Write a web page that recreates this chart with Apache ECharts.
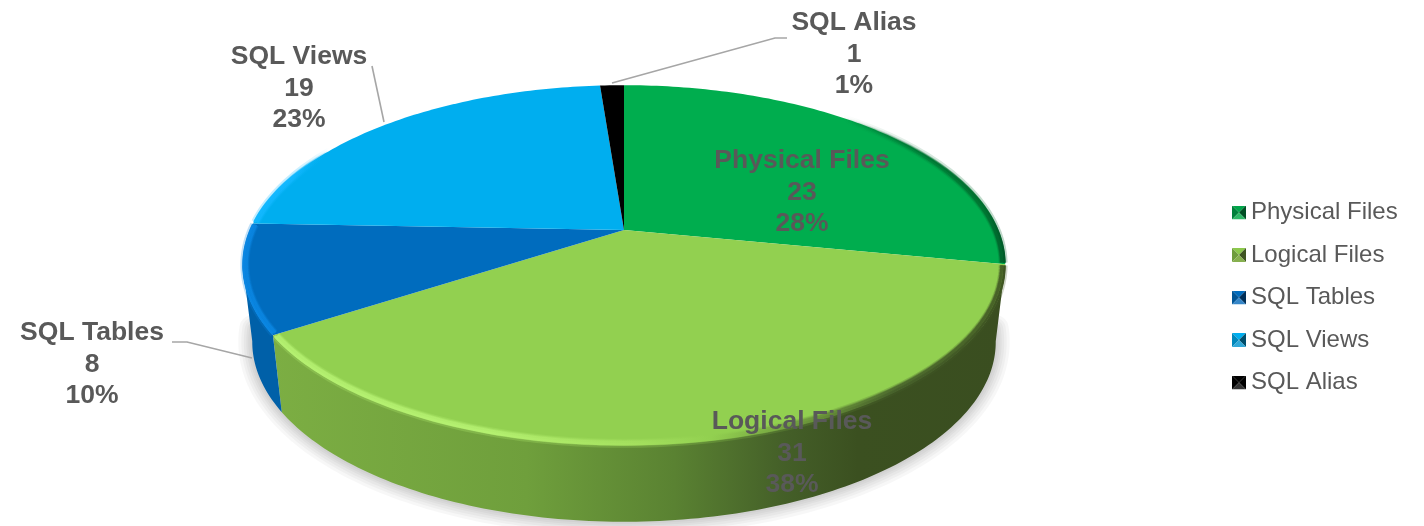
<!DOCTYPE html>
<html lang="en">
<head>
    <meta charset="UTF-8">
    <title>Object types</title>
    <script src="https://cdn.jsdelivr.net/npm/echarts@6/dist/echarts.min.js"></script>
    <style>html,body{margin:0;padding:0;background:#fff}</style>
</head>
<body>
<div id="main" style="width:1424px;height:526px;"></div>
<script type="text/javascript">
    // data
    const categories = ['Physical Files', 'Logical Files', 'SQL Tables', 'SQL Views', 'SQL Alias'];
    const values = [23, 31, 8, 19, 1];

    // colours: top face, wall, rim highlight
    const topColors = ['#00AD4E', '#92D050', '#006CBE', '#00AEEF', '#000000'];
    const wallStops = [
        [[0, '#007A37'], [1, '#007A37']],
        [[0, '#7CAE43'], [0.35, '#6F9F3C'], [0.55, '#5A8232'], [0.7, '#445F28'], [0.8, '#3B5020'], [1, '#3A4E20']],
        [[0, '#0060A8'], [1, '#005F9F']],
        [[0, '#0090C8'], [1, '#0090C8']],
        [[0, '#000000'], [1, '#000000']]
    ];
    const rimStops = [
        [[0, 'rgba(0,107,48,0)'], [0.78, 'rgba(0,107,48,0)'], [0.97, '#00702F'], [1, '#005A28']],
        [[0, '#B4F070'], [0.3, '#B4F070'], [0.5, '#A4E05E'], [0.6, '#92D050'], [0.72, '#6E9A3C'], [0.85, '#46602A'], [1, '#3F5522']],
        [[0, '#0A86E2'], [1, '#0A86E2']],
        [[0, '#12B8FF'], [0.03, '#12B8FF'], [0.08, 'rgba(0,174,239,0)'], [1, 'rgba(0,174,239,0)']],
        null
    ];
    // legend icon facets: top, left, right, bottom
    const iconFacets = [
        ['#00A54A', '#00803A', '#004F24', '#2DB866'],
        ['#8CC84C', '#6E9C3C', '#3F5522', '#86B04E'],
        ['#006CBE', '#005596', '#002F58', '#3586C8'],
        ['#00AEEF', '#0088BC', '#004E6C', '#30A8D8'],
        ['#000000', '#000000', '#000000', '#333333']
    ];

    // perspective of the disc, fitted to the picture
    const apexX = 624, apexY = 230, scaleX = 374, scaleY = 173, persp = 0.1945;
    const wallDrop = 77, wallShrink = 0.975;
    const wallFrom = 101, wallTo = 259;

    const total = values.reduce((a, b) => a + b, 0);
    const starts = values.map((v, i) => values.slice(0, i).reduce((a, b) => a + b, 0));

    function topPoint(deg, r) {
        const a = deg * Math.PI / 180;
        const X = r * Math.sin(a), Y = r * Math.cos(a), w = 1 + persp * Y;
        return [apexX + scaleX * X / w, apexY - scaleY * Y / w];
    }
    function bottomPoint(deg) {
        const p = topPoint(deg, 1);
        return [apexX + (p[0] - apexX) * wallShrink, p[1] + wallDrop];
    }
    function arc(from, to, fn) {
        const pts = [], n = Math.max(2, Math.ceil(Math.abs(to - from)));
        for (let k = 0; k <= n; k++) pts.push(fn(from + (to - from) * k / n));
        return pts;
    }
    function xGrad(stops) {
        return new echarts.graphic.LinearGradient(270, 0, 1005, 0,
            stops.map(s => ({offset: s[0], color: s[1]})), true);
    }

    // data labels and leaders, placed by hand like in the original
    const labelPos = [[802, 161], [792, 422], [92, 333], [299, 57], [854, 23]];
    const leaders = [
        null,
        null,
        [[172, 342], [187, 342], [252, 358]],
        [[372, 66], [384, 122]],
        [[612, 83], [775, 38], [787, 38]]
    ];
    const lineGap = 31.5;

    function renderSlice(params, api) {
        const i = params.seriesIndex;
        const v = api.value(0);
        const a0 = starts[i] / total * 360;
        const a1 = (starts[i] + v) / total * 360;
        const children = [];

        // soft shadow under the whole front, drawn once
        if (i === 1) {
            [28, 22, 17, 12, 8, 4].forEach(w => {
                children.push({
                    type: 'polyline', z2: 1,
                    shape: {points: arc(wallFrom - 4, wallTo + 4, bottomPoint)},
                    style: {fill: null, stroke: '#000', lineWidth: w, opacity: 0.03, lineJoin: 'round', lineCap: 'round'}
                });
            });
        }

        // wall
        const w0 = Math.max(a0, wallFrom), w1 = Math.min(a1, wallTo);
        if (w1 > w0) {
            children.push({
                type: 'polygon', z2: 2,
                shape: {points: arc(w0, w1, d => topPoint(d, 1)).concat(arc(w1, w0, bottomPoint))},
                style: {fill: xGrad(wallStops[i])}
            });
        }

        // top face
        children.push({
            type: 'polygon', z2: 3,
            shape: {points: [[apexX, apexY]].concat(arc(a0, a1, d => topPoint(d, 1)))},
            style: {fill: topColors[i]}
        });

        // rim highlight, a few strokes to fake the soft bevel
        if (rimStops[i]) {
            [[0.9945, 9, 0.25], [0.993, 6, 0.45], [0.991, 3, 0.75], [0.998, 2.5, 1]].forEach(s => {
                children.push({
                    type: 'polyline', z2: 4,
                    shape: {points: arc(a0 + 0.4, a1 - 0.4, d => topPoint(d, s[0]))},
                    style: {fill: null, stroke: xGrad(rimStops[i]), lineWidth: s[1], opacity: s[2]}
                });
            });
        }

        // leader
        if (leaders[i]) {
            children.push({
                type: 'polyline', z2: 5,
                shape: {points: leaders[i]},
                style: {fill: null, stroke: '#A6A6A6', lineWidth: 1.6}
            });
        }

        // label
        const pct = Math.round(v / total * 100) + '%';
        [categories[i], String(v), pct].forEach((t, k) => {
            children.push({
                type: 'text', z2: 6,
                style: {
                    text: t,
                    x: labelPos[i][0],
                    y: labelPos[i][1] + k * lineGap,
                    fill: '#595959',
                    font: 'bold 26.5px "Liberation Sans", Arial, sans-serif',
                    align: 'center',
                    verticalAlign: 'middle'
                }
            });
        });

        return {type: 'group', children: children};
    }

    function iconFor(f) {
        const svg = '<svg xmlns="http://www.w3.org/2000/svg" width="14" height="14" viewBox="0 0 14 14">' +
            '<path fill="' + f[0] + '" d="M0 0H14L7 7Z"/>' +
            '<path fill="' + f[1] + '" d="M0 0V14L7 7Z"/>' +
            '<path fill="' + f[2] + '" d="M14 0V14L7 7Z"/>' +
            '<path fill="' + f[3] + '" d="M0 14H14L7 7Z"/></svg>';
        return 'image://data:image/svg+xml;charset=utf-8,' + encodeURIComponent(svg);
    }

    const option = {
        backgroundColor: '#fff',
        animation: false,
        legend: {
            orient: 'vertical',
            left: 1227,
            top: 195,
            itemWidth: 14,
            itemHeight: 14,
            itemGap: 17.5,
            selectedMode: false,
            textStyle: {
                color: '#595959',
                fontSize: 24,
                lineHeight: 25,
                fontFamily: '"Liberation Sans", Arial, sans-serif'
            },
            data: categories.map((name, i) => ({name: name, icon: iconFor(iconFacets[i])}))
        },
        series: categories.map((name, i) => ({
            name: name,
            type: 'custom',
            coordinateSystem: 'none',
            silent: true,
            clip: false,
            renderItem: renderSlice,
            data: [[values[i]]]
        }))
    };

    let myChart = echarts.init(document.getElementById('main'));
    myChart.setOption(option);
</script>
</body>
</html>
